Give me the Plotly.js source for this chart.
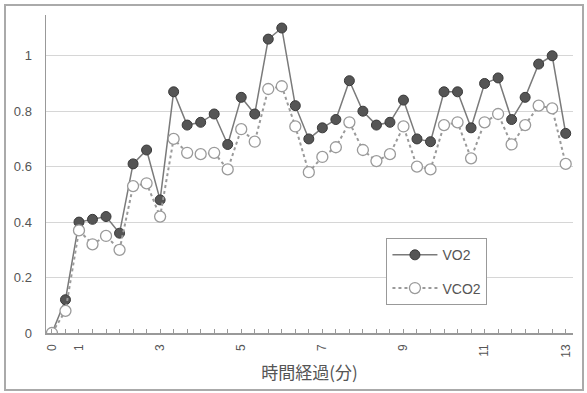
<!DOCTYPE html>
<html>
<head>
<meta charset="utf-8">
<script src="https://cdn.plot.ly/plotly-3.0.1.min.js"></script>
<style>
html,body{margin:0;padding:0;background:#fff;}
#chart{position:absolute;left:0;top:0;width:587px;height:393px;}
#frame{position:absolute;left:4px;top:4px;width:576px;height:383px;border:2px solid #aaa;pointer-events:none;}
</style>
</head>
<body>
<div id="chart"></div>
<div id="frame"></div>
<script>
// time labels for the 39 sampled points (only some are labelled)
const timeLabels = ['0','','1','','','','','','3','','','','','','5','','','','','','7','','','','','','9','','','','','','11','','','','','','13'];
const vo2  = [0.00,0.12,0.40,0.41,0.42,0.36,0.61,0.66,0.48,0.87,0.75,0.76,0.79,0.68,0.85,0.79,1.06,1.10,0.82,0.70,0.74,0.77,0.91,0.80,0.75,0.76,0.84,0.70,0.69,0.87,0.87,0.74,0.90,0.92,0.77,0.85,0.97,1.00,0.72];
const vco2 = [0.00,0.08,0.37,0.32,0.35,0.30,0.53,0.54,0.42,0.70,0.65,0.645,0.65,0.59,0.735,0.69,0.88,0.89,0.745,0.58,0.635,0.67,0.76,0.66,0.62,0.645,0.745,0.60,0.59,0.75,0.76,0.63,0.76,0.79,0.68,0.75,0.82,0.81,0.61];
const yTicks = [0,0.2,0.4,0.6,0.8,1];
const yTickText = ['0','0.2','0.4','0.6','0.8','1'];

const idx = timeLabels.map((_, i) => i);

const traces = [
  {
    x: idx, y: vo2, name: 'VO2', type: 'scatter', mode: 'lines+markers',
    legendgroup: 'a',
    line: {color: '#7a7a7a', width: 1.5},
    marker: {size: 10, color: '#555555', line: {color: '#3a3a3a', width: 1}}
  },
  {
    x: idx, y: vco2, name: 'VCO2', type: 'scatter', mode: 'lines+markers',
    legendgroup: 'b',
    line: {color: '#9a9a9a', width: 2, dash: 'dot'},
    marker: {size: 11, color: '#ffffff', line: {color: '#9a9a9a', width: 1.3}}
  }
];

const layout = {
  width: 587, height: 393,
  margin: {l: 46, r: 14, t: 15, b: 60},
  paper_bgcolor: '#ffffff', plot_bgcolor: '#ffffff',
  font: {family: 'Liberation Sans, Arial, sans-serif', color: '#555'},
  showlegend: true,
  legend: {
    x: 0.646, y: 0.298, xanchor: 'left', yanchor: 'top',
    bgcolor: '#ffffff', bordercolor: '#999', borderwidth: 1,
    font: {size: 14, color: '#555'},
    itemwidth: 45, tracegroupgap: 12
  },
  xaxis: {
    range: [-0.44, 38.54],
    tickmode: 'array', tickvals: idx, ticktext: timeLabels,
    tickangle: -90,
    tickfont: {size: 12, color: '#555'},
    ticks: 'inside', ticklen: 4, tickcolor: '#999', tickwidth: 1,
    ticklabelstandoff: 5,
    showgrid: false, zeroline: false,
    showline: true, linecolor: '#999', linewidth: 1.5,
    title: {text: '時間経過(分)', font: {size: 17, family: 'Noto Sans CJK JP', color: '#555'}, standoff: 10}
  },
  yaxis: {
    range: [0, 1.147],
    tickmode: 'array', tickvals: yTicks, ticktext: yTickText,
    tickfont: {size: 13, color: '#555'},
    ticks: 'outside', ticklen: 10, tickcolor: 'rgba(0,0,0,0)',
    showgrid: true, gridcolor: '#d6d6d6', gridwidth: 1,
    zeroline: false,
    showline: true, linecolor: '#999', linewidth: 1.5
  }
};

Plotly.newPlot('chart', traces, layout, {displayModeBar: false, staticPlot: true});
</script>
</body>
</html>
